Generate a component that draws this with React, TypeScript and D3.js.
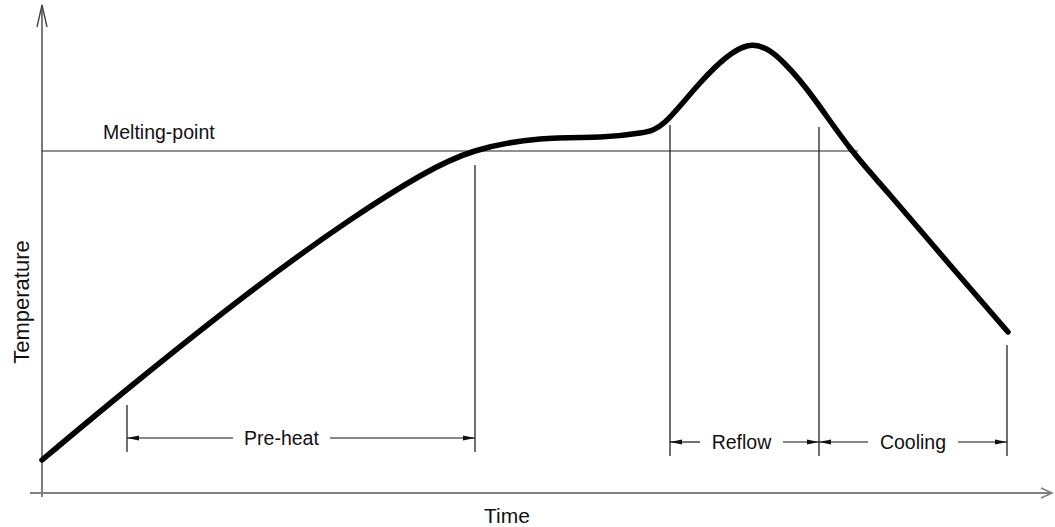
import React from "react";
import * as d3 from "d3";

// Profile data (time units, temperature units)
const times = [0, 88, 208, 308, 378, 433, 498, 558, 598, 623, 658, 705, 743, 773, 808, 848, 908, 966];
const temps = [33, 106, 201, 273, 317, 342, 354, 356, 360, 371, 410, 447, 429, 393, 345, 298, 228, 161];

const meltingTemp = 342;
const meltingEnd = 816;

// Phase boundaries (time) and their vertical extents (temperature)
const boundaryTimes = [85, 433, 628, 777, 965];
const boundaryTop = [88, 328, 368, 366, 148];
const boundaryBottom = [41, 41, 37, 37, 37];

const phaseLabels = ["Pre-heat", "Reflow", "Cooling"];
const phaseStart = [85, 628, 777];
const phaseEnd = [433, 777, 965];
const phaseLevel = [55, 51, 51];
const phaseGapLeft = [191, 658, 826];
const phaseGapRight = [288, 741, 916];

const W = 1055;
const H = 527;

export default function App() {
  const x = d3.scaleLinear().domain([0, 1010]).range([42, 1052]);
  const y = d3.scaleLinear().domain([0, 488]).range([493, 5]);

  const line = d3
    .line<number>()
    .x((_, i) => x(times[i]))
    .y((d) => y(d))
    .curve(d3.curveNatural);

  const font = "'Liberation Sans', Arial, Helvetica, sans-serif";
  const ah = 12; // arrow length
  const aw = 2.6; // arrow half-width

  const arrowHead = (tipX: number, yy: number, dir: number) =>
    `M${tipX},${yy} L${tipX - dir * ah},${yy - aw} L${tipX - dir * ah},${yy + aw} Z`;

  return (
    <svg
      width={W}
      height={H}
      style={{ position: "absolute", left: 0, top: 0, background: "#fff" }}
    >
      {/* Y axis */}
      <line x1={x(0)} x2={x(0)} y1={y(-4)} y2={y(488)} stroke="#444" strokeWidth={1.4} />
      <path
        d={`M${x(0) - 5},${y(488) + 22} L${x(0)},${y(488)} L${x(0) + 5},${y(488) + 22}`}
        fill="none"
        stroke="#444"
        strokeWidth={1.4}
      />
      {/* X axis */}
      <line x1={x(-12)} x2={x(1010)} y1={y(0)} y2={y(0)} stroke="#808080" strokeWidth={2} />
      <path
        d={`M${x(1010) - 11},${y(0) - 5} L${x(1010)},${y(0)} L${x(1010) - 11},${y(0) + 5}`}
        fill="none"
        stroke="#808080"
        strokeWidth={1.6}
      />

      {/* Melting point line */}
      <line x1={x(0)} x2={x(meltingEnd)} y1={y(meltingTemp)} y2={y(meltingTemp)} stroke="#222" strokeWidth={1.2} />
      <text x={103} y={139} fontFamily={font} fontSize={19.5} fill="#111">
        Melting-point
      </text>

      {/* Phase boundaries */}
      {boundaryTimes.map((t, i) => (
        <line
          key={i}
          x1={x(t)}
          x2={x(t)}
          y1={y(boundaryTop[i])}
          y2={y(boundaryBottom[i])}
          stroke="#111"
          strokeWidth={1.2}
        />
      ))}

      {/* Phase dimension arrows */}
      {phaseLabels.map((lab, i) => {
        const yy = y(phaseLevel[i]);
        const xs = x(phaseStart[i]);
        const xe = x(phaseEnd[i]);
        const gl = x(phaseGapLeft[i]);
        const gr = x(phaseGapRight[i]);
        return (
          <g key={lab}>
            <line x1={xs} x2={gl} y1={yy} y2={yy} stroke="#111" strokeWidth={1.2} />
            <line x1={gr} x2={xe} y1={yy} y2={yy} stroke="#111" strokeWidth={1.2} />
            <path d={arrowHead(xs, yy, -1)} fill="#111" />
            <path d={arrowHead(xe, yy, 1)} fill="#111" />
            <text
              x={(gl + gr) / 2}
              y={yy + 7}
              textAnchor="middle"
              fontFamily={font}
              fontSize={19.5}
              fill="#111"
            >
              {lab}
            </text>
          </g>
        );
      })}

      {/* Profile curve */}
      <path
        d={line(temps) || ""}
        fill="none"
        stroke="#000"
        strokeWidth={5.5}
        strokeLinecap="round"
        strokeLinejoin="round"
      />

      {/* Axis titles */}
      <text x={507} y={523} textAnchor="middle" fontFamily={font} fontSize={21} fill="#111">
        Time
      </text>
      <text
        transform="translate(29,302) rotate(-90)"
        textAnchor="middle"
        fontFamily={font}
        fontSize={22}
        fill="#111"
      >
        Temperature
      </text>
    </svg>
  );
}
